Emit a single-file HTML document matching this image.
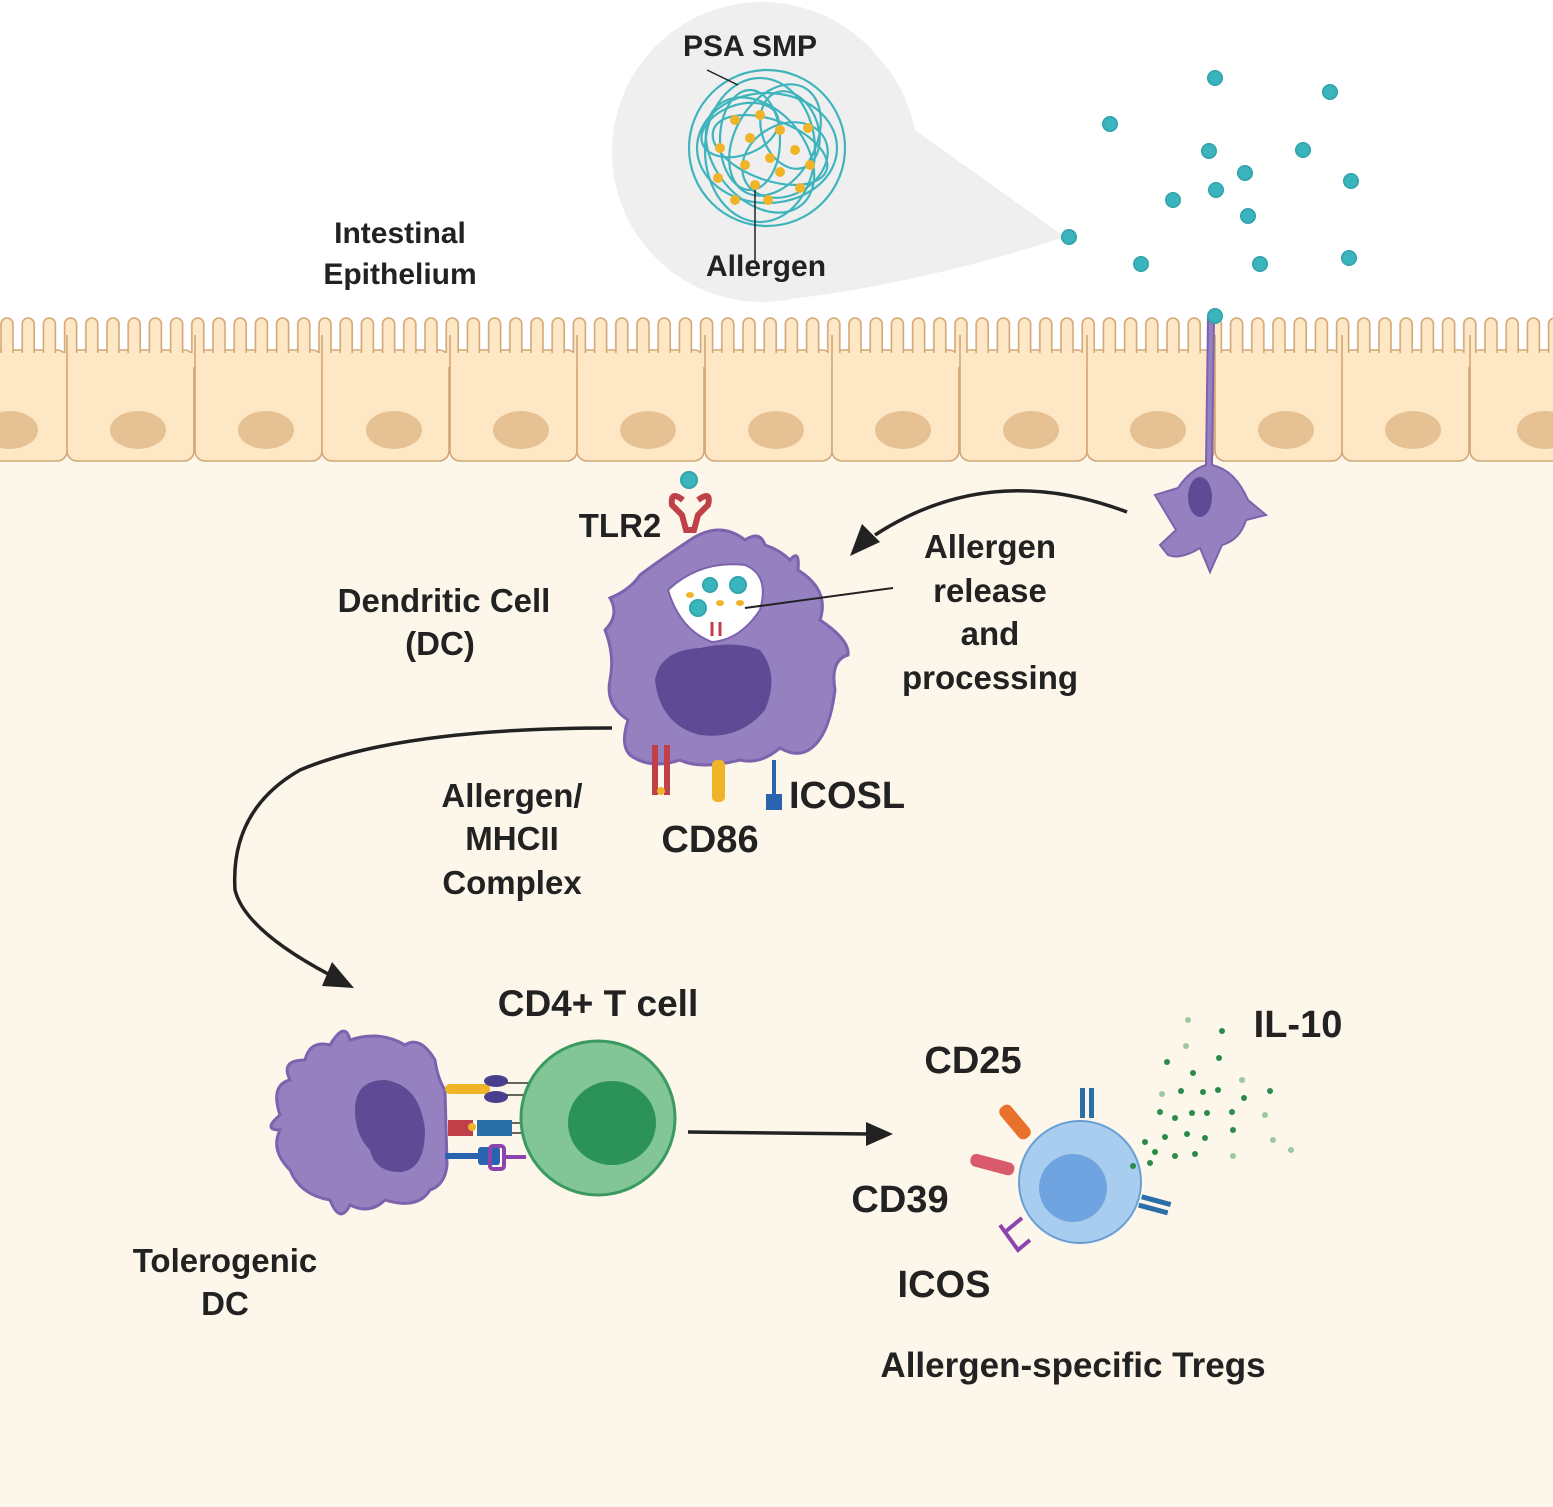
<!DOCTYPE html>
<html><head><meta charset="utf-8"><style>
html,body{margin:0;padding:0;background:#fff}
svg{display:block}
text{font-family:"Liberation Sans",Arial,sans-serif;font-weight:bold;fill:#222}
</style></head><body>
<svg width="1553" height="1507" viewBox="0 0 1553 1507" xmlns="http://www.w3.org/2000/svg">
<defs>
<pattern id="villi" x="-3" y="316" width="21.2" height="50" patternUnits="userSpaceOnUse">
<rect x="4" y="2" width="12" height="46" rx="6" fill="#fde7c4" stroke="#d2a878" stroke-width="1.6"/>
</pattern>
<radialGradient id="tc" cx="0.5" cy="0.5" r="0.5"><stop offset="0.7" stop-color="#3bb5bd"/><stop offset="1" stop-color="#2a9aa3"/></radialGradient>
</defs>
<rect x="0" y="455" width="1553" height="1052" fill="#fdf6ea"/>
<!-- bubble -->
<path d="M700 60 Q760 0 840 30 Q900 60 915 130 L1065 237 Q900 290 760 302 Q640 290 615 170 Q620 90 700 60Z" fill="#efefef"/>
<circle cx="762" cy="152" r="150" fill="#efefef"/>
<g fill="none" stroke="#3fb4bd" stroke-width="2.2">
<circle cx="767" cy="148" r="78"/>
<ellipse cx="767" cy="148" rx="70" ry="55"/>
<ellipse cx="760" cy="150" rx="55" ry="72"/>
<ellipse cx="775" cy="140" rx="40" ry="60" transform="rotate(30 775 140)"/>
<ellipse cx="760" cy="155" rx="45" ry="65" transform="rotate(-40 760 155)"/>
<ellipse cx="770" cy="150" rx="60" ry="30" transform="rotate(20 770 150)"/>
<ellipse cx="750" cy="140" rx="30" ry="50"/>
<ellipse cx="785" cy="160" rx="35" ry="45" transform="rotate(60 785 160)"/>
<ellipse cx="740" cy="130" rx="25" ry="40" transform="rotate(70 740 130)"/>
<ellipse cx="790" cy="130" rx="28" ry="40" transform="rotate(-20 790 130)"/>
</g>
<g fill="#f0b429">
<circle cx="735" cy="120" r="5"/><circle cx="760" cy="115" r="5"/><circle cx="780" cy="130" r="5"/><circle cx="808" cy="128" r="5"/>
<circle cx="720" cy="148" r="5"/><circle cx="745" cy="165" r="5"/><circle cx="770" cy="158" r="5"/><circle cx="795" cy="150" r="5"/>
<circle cx="718" cy="178" r="5"/><circle cx="755" cy="185" r="5"/><circle cx="780" cy="172" r="5"/><circle cx="800" cy="188" r="5"/>
<circle cx="735" cy="200" r="5"/><circle cx="768" cy="200" r="5"/><circle cx="810" cy="165" r="5"/><circle cx="750" cy="138" r="5"/>
</g>
<line x1="707" y1="70" x2="738" y2="85" stroke="#222" stroke-width="1.5"/>
<line x1="755" y1="190" x2="755" y2="262" stroke="#222" stroke-width="1.5"/>
<text x="750" y="56" font-size="30" text-anchor="middle">PSA SMP</text>
<text x="766" y="276" font-size="30" text-anchor="middle">Allergen</text>
<text x="400" y="243" font-size="30" text-anchor="middle">Intestinal</text>
<text x="400" y="284" font-size="30" text-anchor="middle">Epithelium</text>
<g fill="url(#tc)">
<circle cx="1215" cy="78" r="8"/><circle cx="1330" cy="92" r="8"/><circle cx="1110" cy="124" r="8"/><circle cx="1209" cy="151" r="8"/>
<circle cx="1303" cy="150" r="8"/><circle cx="1245" cy="173" r="8"/><circle cx="1351" cy="181" r="8"/><circle cx="1216" cy="190" r="8"/>
<circle cx="1173" cy="200" r="8"/><circle cx="1248" cy="216" r="8"/><circle cx="1069" cy="237" r="8"/><circle cx="1141" cy="264" r="8"/>
<circle cx="1260" cy="264" r="8"/><circle cx="1349" cy="258" r="8"/>
</g>
<!-- epithelium -->
<g fill="#fde7c4" stroke="#d2a878" stroke-width="1.6">
<rect x="-60" y="350" width="127" height="111" rx="10"/>
<rect x="67" y="350" width="127" height="111" rx="10"/>
<rect x="195" y="350" width="127" height="111" rx="10"/>
<rect x="322" y="350" width="127" height="111" rx="10"/>
<rect x="450" y="350" width="127" height="111" rx="10"/>
<rect x="577" y="350" width="127" height="111" rx="10"/>
<rect x="705" y="350" width="127" height="111" rx="10"/>
<rect x="832" y="350" width="127" height="111" rx="10"/>
<rect x="960" y="350" width="127" height="111" rx="10"/>
<rect x="1087" y="350" width="127" height="111" rx="10"/>
<rect x="1215" y="350" width="127" height="111" rx="10"/>
<rect x="1342" y="350" width="127" height="111" rx="10"/>
<rect x="1470" y="350" width="127" height="111" rx="10"/>
</g>
<rect x="0" y="316" width="1553" height="50" fill="url(#villi)"/>
<rect x="0" y="353" width="1553" height="14" fill="#fde7c4"/>
<g stroke="#d2a878" stroke-width="1.6">
<line x1="67" y1="335" x2="67" y2="368"/><line x1="195" y1="335" x2="195" y2="368"/><line x1="322" y1="335" x2="322" y2="368"/>
<line x1="450" y1="335" x2="450" y2="368"/><line x1="577" y1="335" x2="577" y2="368"/><line x1="705" y1="335" x2="705" y2="368"/>
<line x1="832" y1="335" x2="832" y2="368"/><line x1="960" y1="335" x2="960" y2="368"/><line x1="1087" y1="335" x2="1087" y2="368"/>
<line x1="1215" y1="335" x2="1215" y2="368"/><line x1="1342" y1="335" x2="1342" y2="368"/><line x1="1470" y1="335" x2="1470" y2="368"/>
</g>
<g fill="#e6c194">
<ellipse cx="10" cy="430" rx="28" ry="19"/><ellipse cx="138" cy="430" rx="28" ry="19"/><ellipse cx="266" cy="430" rx="28" ry="19"/>
<ellipse cx="394" cy="430" rx="28" ry="19"/><ellipse cx="521" cy="430" rx="28" ry="19"/><ellipse cx="648" cy="430" rx="28" ry="19"/>
<ellipse cx="776" cy="430" rx="28" ry="19"/><ellipse cx="903" cy="430" rx="28" ry="19"/><ellipse cx="1031" cy="430" rx="28" ry="19"/>
<ellipse cx="1158" cy="430" rx="28" ry="19"/><ellipse cx="1286" cy="430" rx="28" ry="19"/><ellipse cx="1413" cy="430" rx="28" ry="19"/><ellipse cx="1545" cy="430" rx="28" ry="19"/>
</g>
<!-- sampling DC -->
<path d="M1208 318 L1214 318 L1212 465 Q1235 470 1248 500 L1266 515 L1246 520 Q1240 540 1222 545 L1210 572 L1200 548 Q1180 560 1168 555 L1160 545 L1176 530 L1155 495 L1178 488 Q1190 470 1206 465Z" fill="#9580c0" stroke="#7d62ae" stroke-width="2"/>
<ellipse cx="1200" cy="497" rx="12" ry="20" fill="#5f4a95"/>
<circle cx="1215" cy="316" r="8" fill="url(#tc)"/>
<path d="M1127 512 Q990 460 875 535" fill="none" stroke="#222" stroke-width="3.5"/>
<polygon points="850,556 862,524 880,542" fill="#222"/>
<!-- main DC -->
<path d="M690 540 Q720 520 745 540 Q760 530 765 545 Q780 550 790 560 Q800 548 798 570 Q830 590 820 620 Q850 640 848 655 Q830 660 835 690 Q830 730 815 745 Q800 760 780 748 Q760 765 740 760 Q700 770 680 760 Q650 770 630 755 Q620 745 628 720 Q605 705 610 680 Q615 655 605 630 Q620 615 610 598 Q630 590 640 575 Q660 560 690 540Z" fill="#9580c0" stroke="#7d62ae" stroke-width="3"/>
<path d="M668 590 Q700 560 745 565 Q770 575 760 610 Q740 640 712 642 Q680 630 668 590Z" fill="#fff" stroke="#7d62ae" stroke-width="2"/>
<path d="M655 680 Q660 650 700 648 Q735 640 760 650 Q780 675 765 710 Q740 740 700 735 Q660 725 655 680Z" fill="#5f4a95"/>
<g fill="url(#tc)"><circle cx="710" cy="585" r="8"/><circle cx="738" cy="585" r="9"/><circle cx="698" cy="608" r="9"/></g>
<g fill="#f0b429"><ellipse cx="690" cy="595" rx="4" ry="3"/><ellipse cx="720" cy="603" rx="4" ry="3"/><ellipse cx="740" cy="603" rx="4" ry="3"/></g>
<path d="M712 622 l0 14 M720 622 l0 14" stroke="#c0404a" stroke-width="3"/>
<line x1="745" y1="608" x2="893" y2="588" stroke="#222" stroke-width="2"/>
<path d="M683 500 Q670 490 672 505 L682 515 L686 530 L694 530 L698 515 L708 505 Q712 490 698 500" fill="none" stroke="#c0404a" stroke-width="6"/>
<circle cx="689" cy="480" r="9" fill="url(#tc)"/>
<rect x="652" y="745" width="6" height="50" fill="#c0404a"/><rect x="664" y="745" width="6" height="50" fill="#c0404a"/>
<circle cx="661" cy="791" r="4" fill="#f0b429"/>
<rect x="712" y="760" width="13" height="42" rx="5" fill="#f0b429"/>
<line x1="774" y1="760" x2="774" y2="797" stroke="#2a64b0" stroke-width="4"/>
<rect x="766" y="794" width="16" height="16" fill="#2a64b0"/>
<text x="620" y="537" font-size="33" text-anchor="middle">TLR2</text>
<text x="444" y="612" font-size="33" text-anchor="middle">Dendritic Cell</text>
<text x="440" y="655" font-size="33" text-anchor="middle">(DC)</text>
<text x="990" y="558" font-size="33" text-anchor="middle">Allergen</text>
<text x="990" y="602" font-size="33" text-anchor="middle">release</text>
<text x="990" y="645" font-size="33" text-anchor="middle">and</text>
<text x="990" y="689" font-size="33" text-anchor="middle">processing</text>
<text x="847" y="808" font-size="38" text-anchor="middle">ICOSL</text>
<text x="710" y="852" font-size="38" text-anchor="middle">CD86</text>
<text x="512" y="807" font-size="33" text-anchor="middle">Allergen/</text>
<text x="512" y="850" font-size="33" text-anchor="middle">MHCII</text>
<text x="512" y="894" font-size="33" text-anchor="middle">Complex</text>
<path d="M612 728 Q400 728 300 770 Q230 810 235 890 Q245 930 330 975" fill="none" stroke="#222" stroke-width="3.5"/>
<polygon points="354,988 322,986 332,962" fill="#222"/>
<!-- tolerogenic DC -->
<path d="M330 1045 Q345 1020 350 1040 Q380 1030 405 1045 Q420 1035 435 1060 Q438 1080 445 1090 L447 1165 Q445 1185 430 1190 Q418 1210 385 1200 Q370 1215 350 1205 Q340 1225 330 1200 Q300 1195 290 1170 Q270 1150 280 1130 Q262 1130 280 1115 Q270 1085 290 1080 Q280 1060 305 1060 Q310 1040 330 1045Z" fill="#9580c0" stroke="#7d62ae" stroke-width="3"/>
<path d="M355 1110 Q355 1080 385 1080 Q420 1085 425 1130 Q425 1170 400 1172 Q375 1172 370 1150 Q355 1135 355 1110Z" fill="#5f4a95"/>
<rect x="445" y="1084" width="45" height="10" rx="5" fill="#f0b429"/>
<ellipse cx="496" cy="1081" rx="12" ry="6" fill="#4a3f8e"/><ellipse cx="496" cy="1097" rx="12" ry="6" fill="#4a3f8e"/>
<path d="M506 1083 H530 M506 1095 H530" stroke="#333" stroke-width="1.5"/>
<rect x="448" y="1120" width="25" height="16" fill="#c0404a"/>
<circle cx="472" cy="1127" r="4" fill="#f0b429"/>
<rect x="477" y="1120" width="35" height="16" fill="#2a6fa8"/>
<path d="M512 1123 H525 M512 1133 H525" stroke="#333" stroke-width="1.5"/>
<rect x="445" y="1153" width="40" height="6" fill="#2a64b0"/>
<rect x="478" y="1147" width="22" height="18" rx="3" fill="#2a64b0"/>
<rect x="490" y="1146" width="14" height="23" rx="3" fill="none" stroke="#8e44ad" stroke-width="4"/>
<rect x="504" y="1155" width="22" height="4" fill="#8e44ad"/>
<circle cx="598" cy="1118" r="77" fill="#82c596" stroke="#3a9a60" stroke-width="3"/>
<ellipse cx="612" cy="1123" rx="44" ry="42" fill="#2b9358"/>
<text x="598" y="1016" font-size="37" text-anchor="middle">CD4+ T cell</text>
<text x="225" y="1272" font-size="33" text-anchor="middle">Tolerogenic</text>
<text x="225" y="1315" font-size="33" text-anchor="middle">DC</text>
<line x1="688" y1="1132" x2="870" y2="1134" stroke="#222" stroke-width="3.5"/>
<polygon points="893,1134 866,1122 866,1146" fill="#222"/>
<!-- Treg -->
<circle cx="1080" cy="1182" r="61" fill="#a9cdee" stroke="#6a9fd6" stroke-width="2"/>
<circle cx="1073" cy="1188" r="34" fill="#70a4e0"/>
<rect x="1008" y="1102" width="14" height="40" rx="6" fill="#e8712e" transform="rotate(-40 1015 1122)"/>
<rect x="970" y="1158" width="45" height="13" rx="6" fill="#d95b6b" transform="rotate(15 992 1164)"/>
<path d="M1022 1218 L1005 1232 M1005 1232 L1000 1225 M1005 1232 L1018 1250 L1030 1240" fill="none" stroke="#8e44ad" stroke-width="4"/>
<rect x="1080" y="1088" width="5" height="30" fill="#2a6fa8"/><rect x="1089" y="1088" width="5" height="30" fill="#2a6fa8"/>
<rect x="1140" y="1198" width="30" height="5" fill="#2a6fa8" transform="rotate(15 1155 1205)"/><rect x="1138" y="1207" width="30" height="5" fill="#2a6fa8" transform="rotate(15 1155 1210)"/>
<g fill="#2a8a4a">
<circle cx="1222" cy="1031" r="3"/><circle cx="1219" cy="1058" r="3"/><circle cx="1167" cy="1062" r="3"/><circle cx="1193" cy="1073" r="3"/>
<circle cx="1181" cy="1091" r="3"/><circle cx="1203" cy="1092" r="3"/><circle cx="1218" cy="1090" r="3"/><circle cx="1244" cy="1098" r="3"/>
<circle cx="1270" cy="1091" r="3"/><circle cx="1160" cy="1112" r="3"/><circle cx="1175" cy="1118" r="3"/><circle cx="1192" cy="1113" r="3"/>
<circle cx="1207" cy="1113" r="3"/><circle cx="1232" cy="1112" r="3"/><circle cx="1145" cy="1142" r="3"/><circle cx="1165" cy="1137" r="3"/>
<circle cx="1187" cy="1134" r="3"/><circle cx="1205" cy="1138" r="3"/><circle cx="1233" cy="1130" r="3"/><circle cx="1155" cy="1152" r="3"/>
<circle cx="1175" cy="1156" r="3"/><circle cx="1195" cy="1154" r="3"/><circle cx="1150" cy="1163" r="3"/><circle cx="1133" cy="1166" r="3"/>
</g>
<g fill="#9cc9a0">
<circle cx="1188" cy="1020" r="3"/><circle cx="1186" cy="1046" r="3"/><circle cx="1242" cy="1080" r="3"/><circle cx="1162" cy="1094" r="3"/>
<circle cx="1265" cy="1115" r="3"/><circle cx="1273" cy="1140" r="3"/><circle cx="1291" cy="1150" r="3"/><circle cx="1233" cy="1156" r="3"/>
</g>
<text x="1298" y="1037" font-size="38" text-anchor="middle">IL-10</text>
<text x="973" y="1073" font-size="38" text-anchor="middle">CD25</text>
<text x="900" y="1212" font-size="38" text-anchor="middle">CD39</text>
<text x="944" y="1297" font-size="38" text-anchor="middle">ICOS</text>
<text x="1073" y="1377" font-size="35" text-anchor="middle">Allergen-specific Tregs</text>
</svg>
</body></html>
